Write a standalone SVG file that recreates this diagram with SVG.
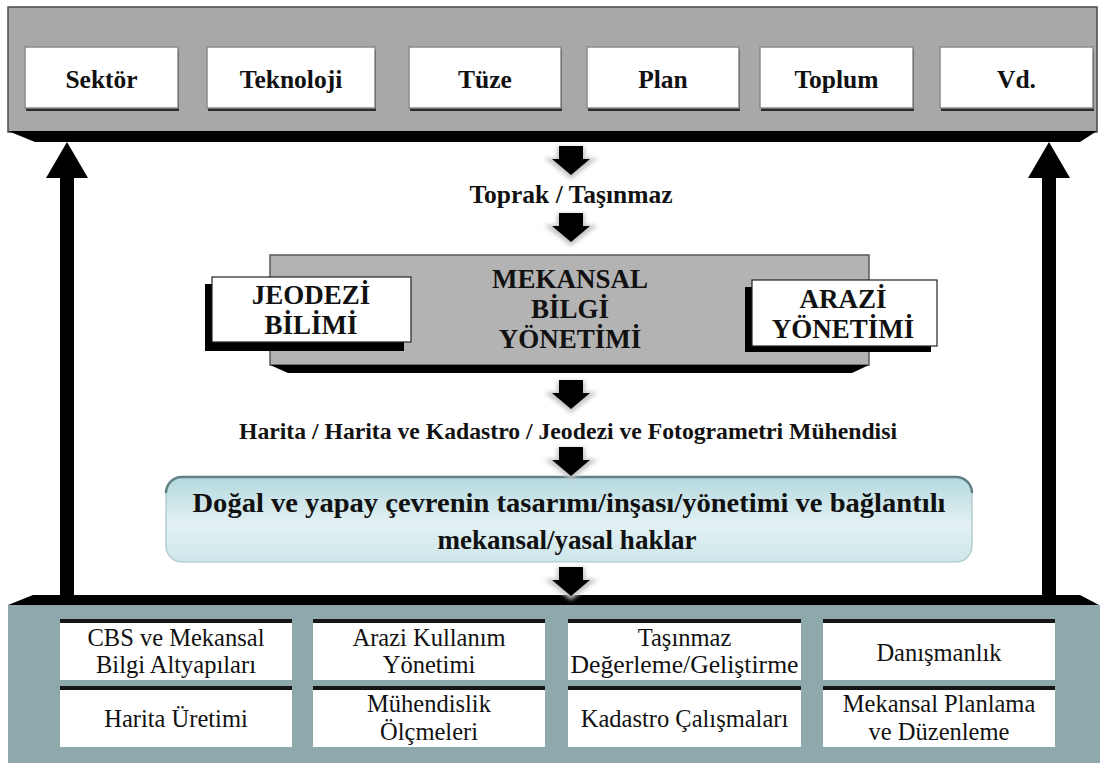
<svg xmlns="http://www.w3.org/2000/svg" width="1100" height="763" viewBox="0 0 1100 763">
<defs>
<style>
.t{font-family:"Liberation Serif","Times New Roman",serif;fill:#111;text-anchor:middle}
.lbl{font-size:25.5px;font-weight:bold}
.mid{font-size:27px;font-weight:bold}
.sub{font-size:24.5px}
.wbox{fill:#fff;stroke:#8a8a8a;stroke-width:1.5}
.bshd{fill:#2b2b2b}
.sline{fill:#161616}
.sbox{fill:#fff}
.arr{fill:#000}
.glow{fill:#c4c4c4;filter:url(#blur)}
</style>
<linearGradient id="blue" x1="0" y1="0" x2="0" y2="1">
<stop offset="0" stop-color="#b3d8de"/>
<stop offset="0.55" stop-color="#e3f1f3"/>
<stop offset="1" stop-color="#cde6ea"/>
</linearGradient>
<filter id="blur" x="-50%" y="-50%" width="200%" height="200%"><feGaussianBlur stdDeviation="2"/></filter>
<path id="dn" d="M-12,0 H12 V13 H19 L0,29 L-19,13 H-12 Z"/>
<path id="dnglow" d="M-14,1 H14 V12 H27 L0,33 L-27,12 H-14 Z"/>
</defs>
<rect width="1100" height="763" fill="#fff"/>

<g id="top-panel">
<rect x="8" y="7" width="1089" height="125" fill="#a8a8a8" stroke="#4a4a4a" stroke-width="1.5"/>
<polygon points="8,131 1097,131 1080,142 35,142" fill="#000"/>
</g>

<g id="n-sektor"><rect class="bshd" x="26" y="50" width="153" height="61"/><rect class="wbox" x="25" y="47" width="153" height="61"/><text class="t lbl" x="101.5" y="88">Sektör</text></g>
<g id="n-teknoloji"><rect class="bshd" x="208" y="50" width="168" height="61"/><rect class="wbox" x="207" y="47" width="168" height="61"/><text class="t lbl" x="291" y="88">Teknoloji</text></g>
<g id="n-tuze"><rect class="bshd" x="410" y="50" width="152" height="61"/><rect class="wbox" x="409" y="47" width="152" height="61"/><text class="t lbl" x="485" y="88">Tüze</text></g>
<g id="n-plan"><rect class="bshd" x="588" y="50" width="152" height="61"/><rect class="wbox" x="587" y="47" width="152" height="61"/><text class="t lbl" x="663" y="88">Plan</text></g>
<g id="n-toplum"><rect class="bshd" x="761" y="50" width="153" height="61"/><rect class="wbox" x="760" y="47" width="153" height="61"/><text class="t lbl" x="836.5" y="88">Toplum</text></g>
<g id="n-vd"><rect class="bshd" x="941" y="50" width="153" height="61"/><rect class="wbox" x="940" y="47" width="153" height="61"/><text class="t lbl" x="1016.5" y="88">Vd.</text></g>

<g id="n-toprak"><text class="t lbl" x="571" y="203">Toprak / Taşınmaz</text></g>

<g id="n-mekansal">
<rect x="270" y="255" width="599" height="110" fill="#b3b3b3" stroke="#5a5a5a" stroke-width="1.5"/>
<polygon points="270,365 869,365 852,373 288,373" fill="#000"/>
<text class="t mid" x="570" y="288">MEKANSAL</text>
<text class="t mid" x="570" y="318">BİLGİ</text>
<text class="t mid" x="570" y="348">YÖNETİMİ</text>
</g>

<g id="n-jeodezi">
<rect x="205" y="284" width="199" height="67" fill="#000"/>
<rect x="212" y="277" width="199" height="65" fill="#fff" stroke="#222" stroke-width="1.2"/>
<text class="t mid" x="311" y="304">JEODEZİ</text>
<text class="t mid" x="311" y="334">BİLİMİ</text>
</g>

<g id="n-arazi">
<rect x="745" y="287" width="186" height="65" fill="#000"/>
<rect x="752" y="280" width="185" height="66" fill="#fff" stroke="#222" stroke-width="1.2"/>
<text class="t mid" x="843" y="308">ARAZİ</text>
<text class="t mid" x="843" y="338">YÖNETİMİ</text>
</g>

<g id="n-harita"><text class="t" style="font-size:24px;font-weight:bold" x="568" y="439" textLength="658" lengthAdjust="spacingAndGlyphs">Harita / Harita ve Kadastro / Jeodezi ve Fotogrametri Mühendisi</text></g>

<g id="n-dogal">
<rect x="166" y="477" width="806" height="85" rx="16" fill="url(#blue)" stroke="#a9c3c6" stroke-width="1.2"/>
<path d="M166,493 A16,16 0 0 1 182,477 H956 A16,16 0 0 1 972,493" fill="none" stroke="#5f8085" stroke-width="2.5"/>
<text class="t" style="font-size:27px;font-weight:bold" x="569" y="512" textLength="753" lengthAdjust="spacingAndGlyphs">Doğal ve yapay çevrenin tasarımı/inşası/yönetimi ve bağlantılı</text>
<text class="t" style="font-size:27px;font-weight:bold" x="567" y="549">mekansal/yasal haklar</text>
</g>

<g id="bottom-panel">
<rect x="8" y="605" width="1092" height="158" fill="#8ea9ab"/>
<polygon points="8,605 33,595 1080,595 1099,605" fill="#000"/>
</g>

<g id="n-cbs"><rect class="sline" x="60" y="619" width="232" height="4"/><rect class="sbox" x="60" y="623" width="232" height="57"/><text class="t sub" x="176" y="646">CBS ve Mekansal</text><text class="t sub" x="176" y="673">Bilgi Altyapıları</text></g>
<g id="n-arazikullanim"><rect class="sline" x="313" y="619" width="232" height="4"/><rect class="sbox" x="313" y="623" width="232" height="57"/><text class="t sub" x="429" y="646">Arazi Kullanım</text><text class="t sub" x="429" y="673">Yönetimi</text></g>
<g id="n-tasinmaz"><rect class="sline" x="568" y="619" width="233" height="4"/><rect class="sbox" x="568" y="623" width="233" height="57"/><text class="t sub" x="684.5" y="646">Taşınmaz</text><text class="t sub" x="684.5" y="673" textLength="228" lengthAdjust="spacingAndGlyphs">Değerleme/Geliştirme</text></g>
<g id="n-danismanlik"><rect class="sline" x="823" y="619" width="232" height="4"/><rect class="sbox" x="823" y="623" width="232" height="57"/><text class="t sub" x="939" y="661">Danışmanlık</text></g>
<g id="n-haritauretimi"><rect class="sline" x="60" y="686" width="232" height="4"/><rect class="sbox" x="60" y="690" width="232" height="57"/><text class="t sub" x="176" y="727">Harita Üretimi</text></g>
<g id="n-muhendislik"><rect class="sline" x="313" y="686" width="232" height="4"/><rect class="sbox" x="313" y="690" width="232" height="57"/><text class="t sub" x="429" y="712">Mühendislik</text><text class="t sub" x="429" y="740">Ölçmeleri</text></g>
<g id="n-kadastro"><rect class="sline" x="568" y="686" width="233" height="4"/><rect class="sbox" x="568" y="690" width="233" height="57"/><text class="t sub" x="684.5" y="727">Kadastro Çalışmaları</text></g>
<g id="n-mekansalplanlama"><rect class="sline" x="823" y="686" width="232" height="4"/><rect class="sbox" x="823" y="690" width="232" height="57"/><text class="t sub" x="939" y="712">Mekansal Planlama</text><text class="t sub" x="939" y="740">ve Düzenleme</text></g>

<g id="connectors">
<g transform="translate(571,146)"><use href="#dnglow" class="glow"/><use href="#dn" class="arr"/></g>
<g transform="translate(571,213)"><use href="#dnglow" class="glow"/><use href="#dn" class="arr"/></g>
<g transform="translate(571,380)"><use href="#dnglow" class="glow"/><use href="#dn" class="arr"/></g>
<g transform="translate(571,447)"><use href="#dnglow" class="glow"/><use href="#dn" class="arr"/></g>
<g transform="translate(571,567)"><use href="#dnglow" class="glow"/><use href="#dn" class="arr"/></g>
<path class="arr" d="M60,596 V178 H46 L67,142 L88,178 H74 V596 Z"/>
<path class="arr" d="M1042,596 V178 H1028 L1049,142 L1070,178 H1056 V596 Z"/>
</g>
</svg>
